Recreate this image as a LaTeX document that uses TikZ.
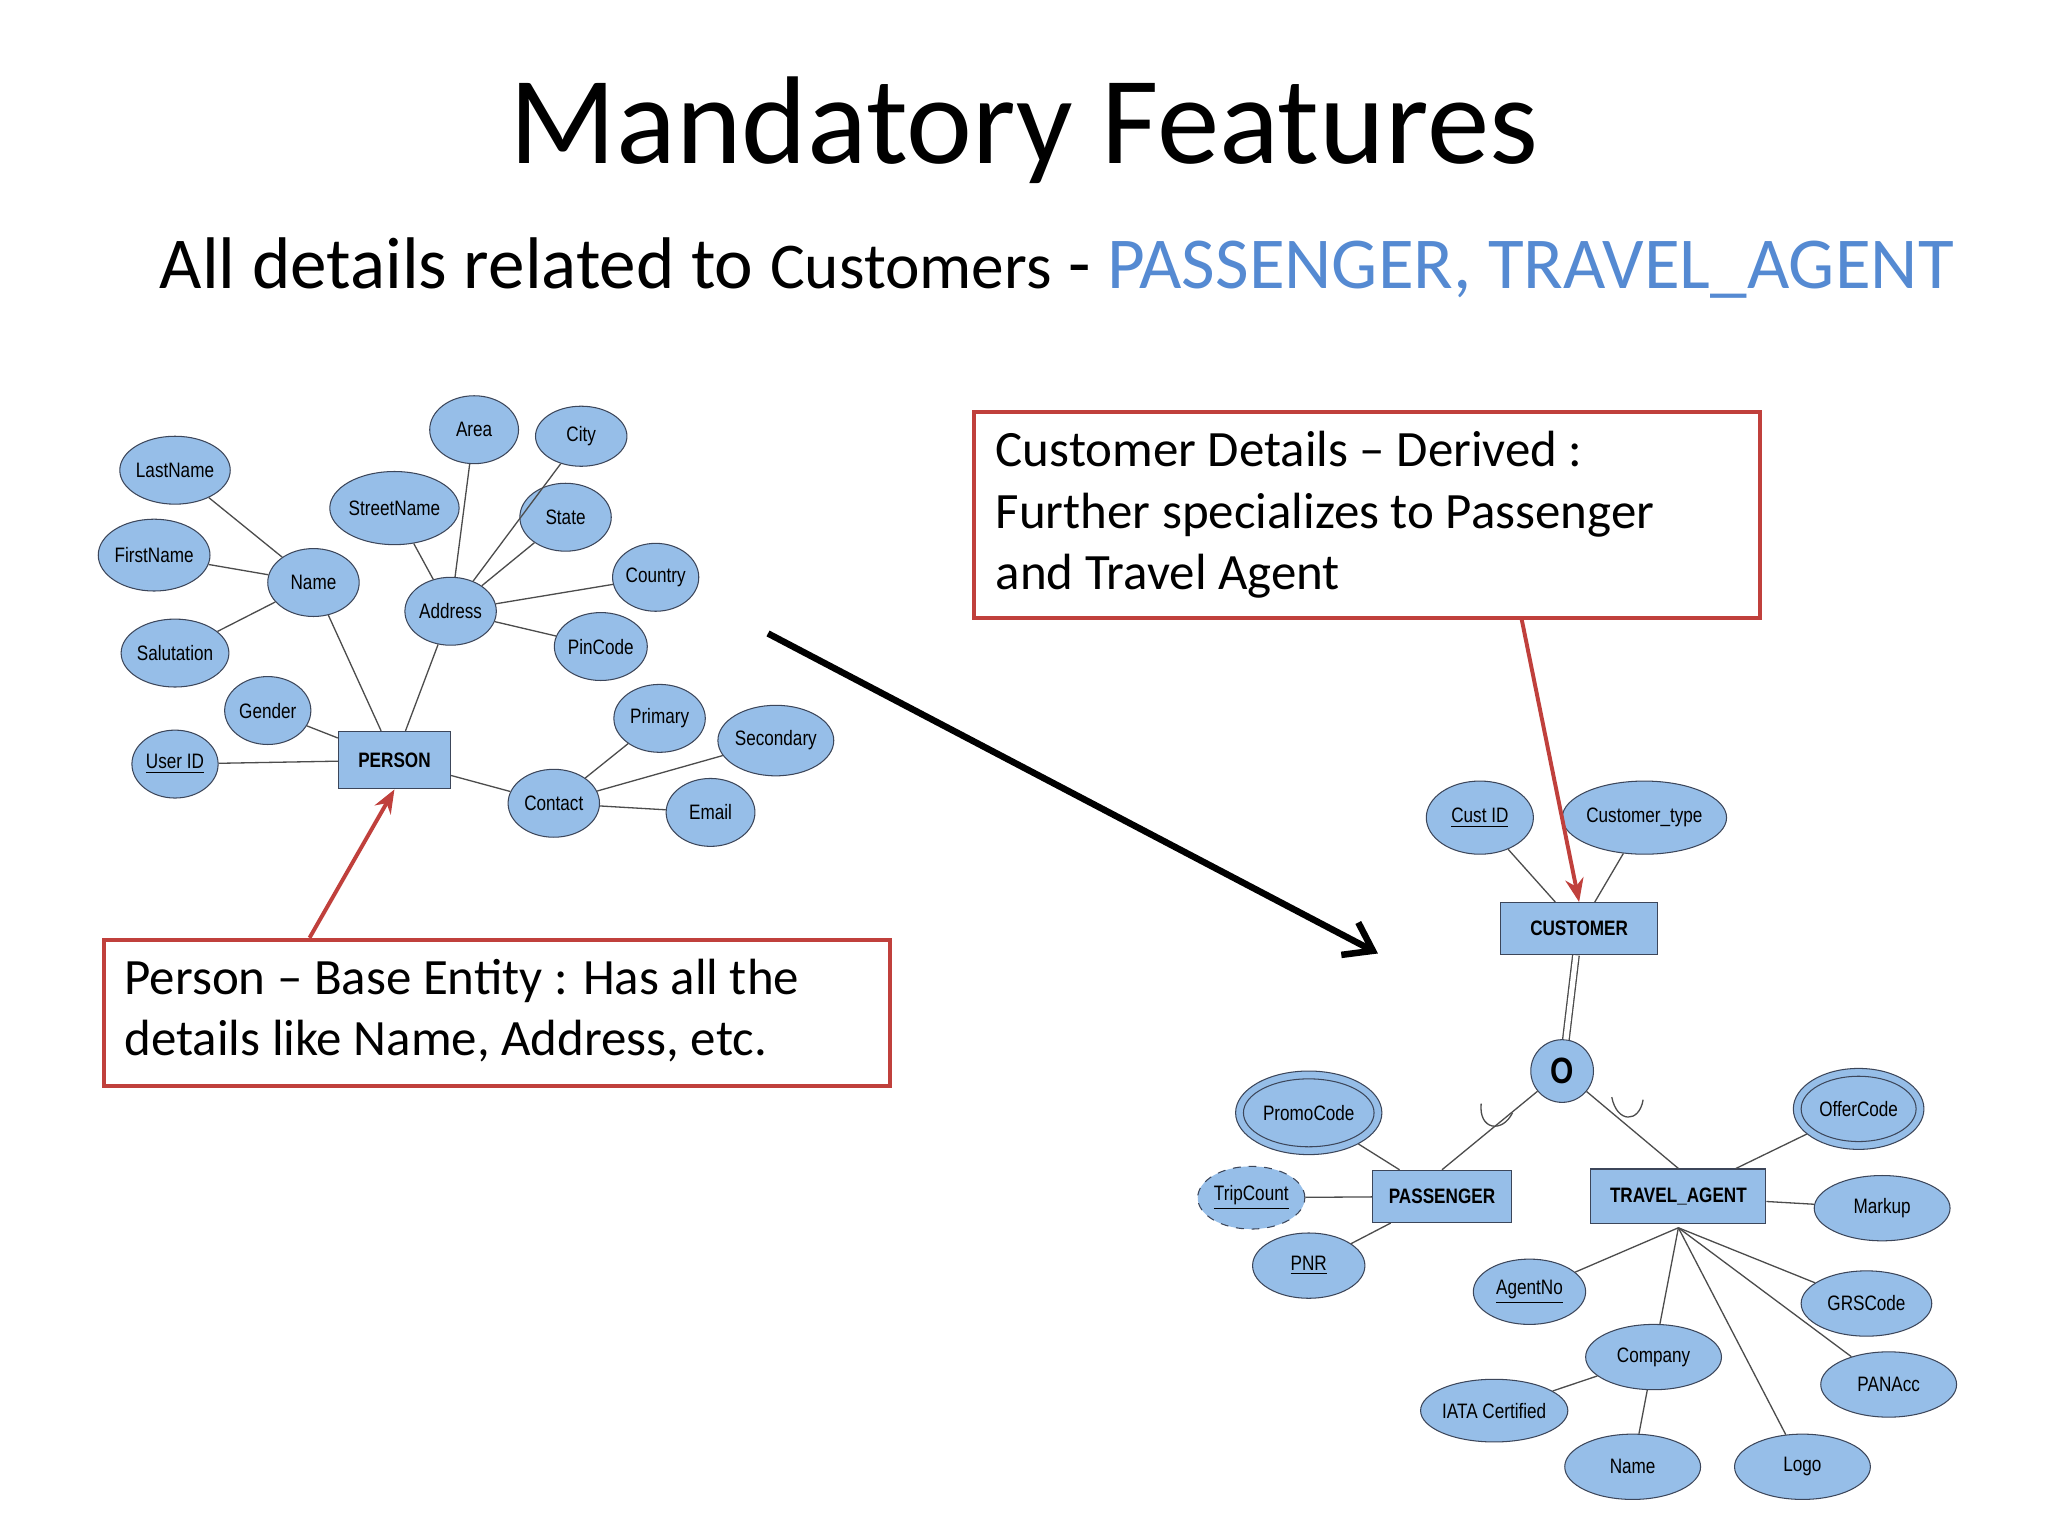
\documentclass[tikz,border=0pt]{standalone}
\usepackage{fontspec}
\setmainfont{Carlito}
\newfontfamily\erfont[FakeStretch=0.82]{Liberation Sans}
\usetikzlibrary{shapes.geometric,arrows.meta}
\definecolor{ebl}{RGB}{150,190,232}
\definecolor{edr}{RGB}{60,70,90}
\definecolor{rbox}{RGB}{192,64,60}
\definecolor{subbl}{RGB}{85,138,210}
\tikzset{
 attr/.style={ellipse,draw=edr,fill=ebl,inner sep=0pt,font=\erfont\fontsize{8}{9}\selectfont},
 lbl/.style={inner sep=0pt,font=\erfont\fontsize{8}{9}\selectfont},
 ent/.style={rectangle,draw=edr,fill=ebl,inner sep=0pt,font=\erfont\bfseries\fontsize{8}{9}\selectfont},
 ln/.style={draw=black!70,line width=0.5pt},
 note/.style={draw=rbox,line width=1.5pt,anchor=north west,inner sep=0pt},
 ntext/.style={anchor=north west,align=left,inner sep=0pt,font=\fontsize{19.5}{23.5}\selectfont},
 rarr/.style={draw=rbox,line width=1.5pt,-{Stealth[length=9pt,width=7pt]}},
}
\begin{document}
\begin{tikzpicture}[x=0.5pt,y=-0.5pt]
\useasboundingbox (0,0) rectangle (1568,1176);
\fill[white] (0,0) rectangle (1568,1176);
\node[font=\fontsize{47.8}{54}\selectfont] (title) at (784,100) {Mandatory Features};
\node[anchor=west,font=\fontsize{28}{32}\selectfont,inner sep=0pt] (sub) at (122,205) {All details related to {\fontsize{25}{28}\selectfont Customers} - \textcolor{subbl}{PASSENGER, TRAVEL\_AGENT}};
% left ER
\newcommand\at[6]{\node[attr,minimum width=#4*0.5pt,minimum height=#5*0.5pt] (#1) at (#2,#3) {#6};}
\at{lastname}{134}{360}{70}{52}{LastName}
\at{firstname}{118}{425}{70}{55}{FirstName}
\at{salut}{134}{500}{68}{52}{Salutation}
\at{name}{240}{446}{70}{52}{Name}
\at{gender}{205}{544}{66}{52}{Gender}
\at{userid}{134}{585}{66}{52}{\underline{User ID}}
\at{area}{363}{329}{68}{52}{Area}
\at{city}{445}{334}{70}{46}{City}
\at{street}{302}{389}{86}{56}{StreetName}
\at{state}{433}{396}{70}{52}{State}
\at{address}{345}{468}{70}{52}{Address}
\at{country}{502}{442}{66}{52}{Country}
\at{pincode}{460}{495}{68}{52}{PinCode}
\at{primary}{505}{550}{70}{52}{Primary}
\at{secondary}{594}{567}{70}{54}{Secondary}
\at{contact}{424}{615}{70}{52}{Contact}
\at{email}{544}{622}{68}{52}{Email}
\node[ent,minimum width=43pt,minimum height=22pt] (person) at (302,582) {PERSON};
\foreach \a/\b in {lastname/name,firstname/name,salut/name,name/person,gender/person,userid/person,address/person,area/address,city/address,street/address,state/address,country/address,pincode/address,person/contact,contact/primary,contact/secondary,contact/email}
 \draw[ln] (\a) -- (\b);
% right ER
\at{custid}{1133}{626}{82}{56}{\underline{Cust ID}}
\at{ctype}{1259}{626}{118}{56}{Customer\_type}
\node[ent,minimum width=60pt,minimum height=20pt] (customer) at (1209,711) {CUSTOMER};
\node[circle,draw=edr,fill=ebl,minimum size=24pt,inner sep=0pt,font=\erfont\bfseries\fontsize{14}{14}\selectfont] (o) at (1196,820) {O};
\node[attr,minimum width=56pt,minimum height=32pt] (promo) at (1002,852) {};
\node[ellipse,draw=edr,minimum width=50pt,minimum height=26pt] (promoin) at (1002,852) {};
\node[lbl] (promot) at (1002,852) {PromoCode};
\node[attr,dashed,minimum width=41pt,minimum height=24pt] (trip) at (958,917) {\underline{TripCount}};
\node[ent,minimum width=53pt,minimum height=20pt] (pass) at (1104,916) {PASSENGER};
\at{pnr}{1002}{969}{86}{50}{\underline{PNR}}
\node[ent,minimum width=67pt,minimum height=21pt] (ta) at (1285,916) {TRAVEL\_AGENT};
\node[attr,minimum width=50pt,minimum height=31pt] (offer) at (1423,849) {};
\node[ellipse,draw=edr,minimum width=44pt,minimum height=25pt] (offerin) at (1423,849) {};
\node[lbl] (offert) at (1423,849) {OfferCode};
\at{markup}{1441}{925}{104}{50}{Markup}
\at{grs}{1429}{998}{100}{50}{GRSCode}
\at{panacc}{1446}{1060}{104}{50}{PANAcc}
\at{agentno}{1171}{989}{86}{50}{\underline{AgentNo}}
\at{company}{1266}{1039}{104}{50}{Company}
\at{iata}{1144}{1080}{106}{48}{IATA Certified}
\at{cname}{1250}{1123}{104}{50}{Name}
\at{logo}{1380}{1123}{104}{50}{Logo}
\foreach \a/\b in {custid/customer,ctype/customer,promo/pass,trip/pass,pnr/pass,offer/ta,markup/ta,company/iata,company/cname}
 \draw[ln] (\a) -- (\b);
\coordinate (tab) at (1285,940);
\foreach \b in {agentno,company,grs,panacc,logo} \draw[ln] (tab) -- (\b);
\draw[ln,double,double distance=2pt] (customer) -- (o);
\draw[ln] (o) -- (pass.north);
\draw[ln] (o) -- (ta.north);
\draw[ln] (1134,845) .. controls (1132,865) and (1150,868) .. (1158,852);
\draw[ln] (1234,840) .. controls (1238,860) and (1255,860) .. (1258,842);
% notes
\node[note,minimum width=301pt,minimum height=79pt] (box1) at (744,314) {};
\node[ntext] (t1) at (762,330) {Customer Details -- Derived :\\Further specializes to Passenger\\and Travel Agent};
\node[note,minimum width=301pt,minimum height=56pt] (box2) at (78,718) {};
\node[ntext] (t2) at (95,734) {Person -- Base Entity : Has all the\\details like Name, Address, etc.};
\coordinate (r1a) at (1165,474);
\draw[rarr] (r1a) -- (customer.north);
\coordinate (r2a) at (237,718);
\draw[rarr] (r2a) -- (person.south);
\coordinate (ba) at (588,485);
\coordinate (bb) at (1055,730);
\draw[line width=2.5pt,-{Straight Barb[length=10pt,width=14pt]}] (ba) -- (bb);
\end{tikzpicture}
\end{document}
